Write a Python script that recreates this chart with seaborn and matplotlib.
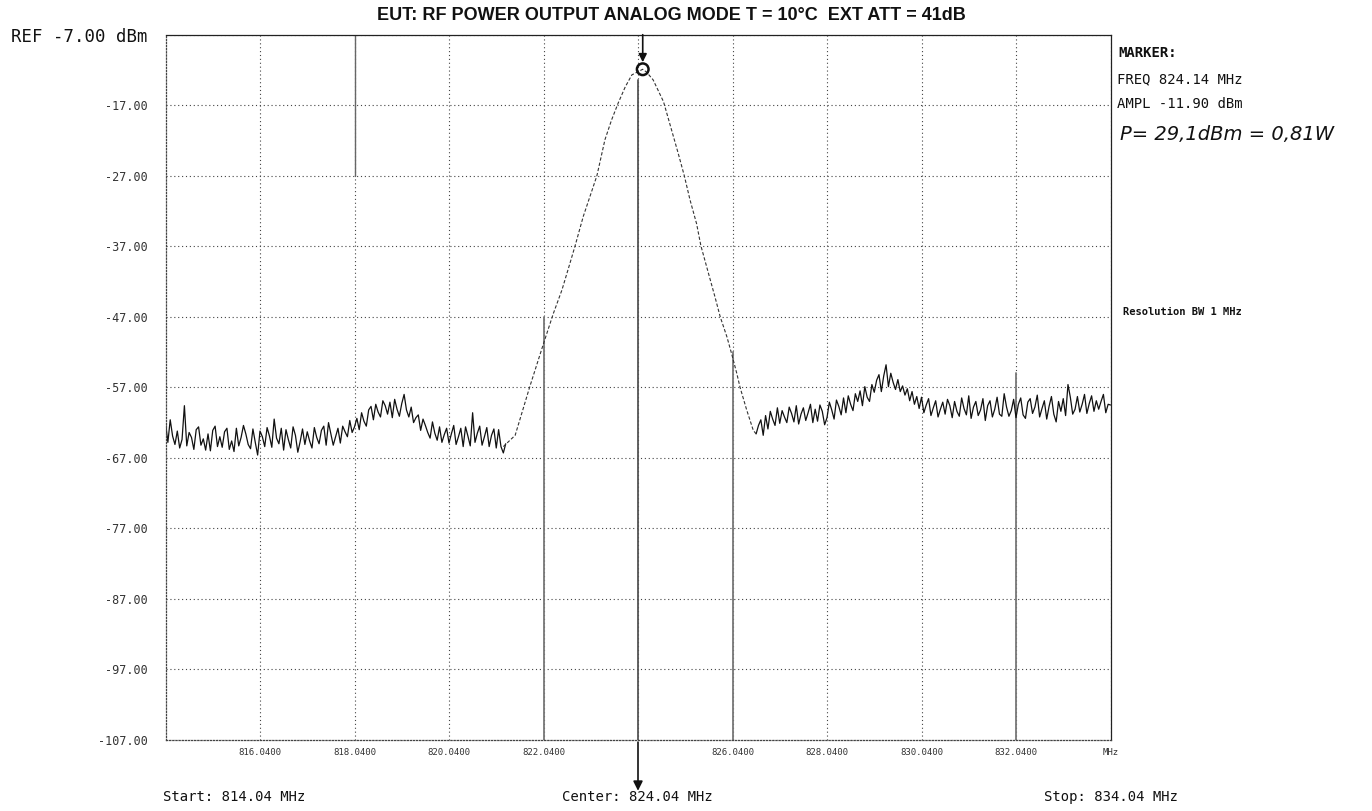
import numpy as np
import pandas as pd
import matplotlib
matplotlib.use("Agg")
import matplotlib.pyplot as plt
import seaborn as sns

# ---- sweep settings -------------------------------------------------------
start_mhz = 814.04
center_mhz = 824.04
stop_mhz = 834.04
sweep_step_mhz = 0.05
ref_level_dbm = -7.0
bottom_level_dbm = -107.0

# ---- axis ticks -----------------------------------------------------------
y_tick_values = [-7, -17, -27, -37, -47, -57, -67, -77, -87, -97, -107]
y_tick_labels = ["REF -7.00 dBm", "-17.00", "-27.00", "-37.00", "-47.00", "-57.00",
                 "-67.00", "-77.00", "-87.00", "-97.00", "-107.00"]
x_tick_values = [816.04, 818.04, 820.04, 822.04, 824.04, 826.04, 828.04, 830.04, 832.04, 834.04]
x_tick_labels = ["816.0400", "818.0400", "820.0400", "822.0400", "", "826.0400",
                 "828.0400", "830.0400", "832.0400", "MHz"]

# ---- marker readout -------------------------------------------------------
marker_freq_mhz = 824.14
marker_ampl_dbm = -11.90
resolution_bw_mhz = 1

# ---- trace: noise floor below the carrier (814.04 .. 821.24 MHz) ---------
left_noise_dbm = [
    -62.0, -64.8, -61.6, -63.9, -65.1, -63.2, -65.6, -64.4, -59.6, -65.3,
    -63.4, -64.1, -65.8, -63.0, -62.6, -65.2, -64.3, -65.9, -63.6, -66.0,
    -63.1, -62.5, -65.4, -64.0, -65.5, -63.3, -62.8, -65.8, -64.6, -66.1,
    -62.8, -65.3, -64.1, -62.4, -63.6, -65.1, -65.7, -62.9, -64.8, -66.6,
    -63.2, -64.0, -65.4, -62.7, -63.9, -65.5, -61.5, -64.2, -65.0, -62.8,
    -65.9, -63.0, -64.4, -65.6, -62.6, -63.8, -66.2, -64.7, -62.9, -65.1,
    -63.3, -64.6, -65.6, -62.7, -64.1, -65.0, -63.1, -62.5, -65.2, -62.0,
    -63.6, -65.2, -64.0, -62.8, -64.9, -62.5, -63.3, -64.0, -61.7, -63.4,
    -62.6, -61.4, -63.0, -60.6, -61.8, -62.5, -60.2, -59.7, -61.6, -59.4,
    -60.5, -61.2, -58.9, -59.6, -60.8, -59.1, -61.3, -58.7, -60.1, -61.1,
    -59.3, -58.0, -60.2, -61.2, -59.8, -62.0, -61.3, -60.9, -63.1, -61.5,
    -62.4, -63.4, -64.2, -61.9, -63.5, -64.5, -62.6, -64.8, -63.7, -62.8,
    -64.9, -63.6, -62.4, -65.1, -64.0, -62.8, -65.4, -62.6, -63.9, -65.3,
    -60.6, -64.8, -63.5, -62.5, -65.2, -64.0, -62.7, -65.4, -63.8, -62.9,
    -65.6, -63.0, -65.4, -66.3, -65.0,
]

# ---- trace: main carrier lobe --------------------------------------------
lobe_freq_mhz = [
    821.19, 821.44, 821.75, 822.04, 822.25, 822.43, 822.60, 822.71, 822.88,
    823.02, 823.17, 823.34, 823.48, 823.62, 823.77, 823.91, 824.14, 824.22,
    824.36, 824.58, 824.75, 824.89, 825.02, 825.14, 825.28, 825.37, 825.53,
    825.67, 825.78, 825.92, 826.02, 826.13, 826.20, 826.34, 826.48, 826.54,
]
lobe_dbm = [
    -65.4, -63.8, -56.9, -50.8, -46.5, -43.2, -39.4, -36.9, -32.8,
    -30.0, -27.0, -21.9, -19.1, -16.7, -14.4, -12.7, -11.9, -12.3,
    -13.4, -16.5, -20.5, -23.8, -27.0, -30.4, -33.8, -36.9, -40.8,
    -44.2, -47.0, -49.8, -52.2, -55.0, -57.0, -60.2, -63.1, -63.6,
]

# ---- trace: noise floor above the carrier (826.54 .. 834.04 MHz) ---------
right_noise_dbm = [
    -63.6, -62.4, -61.6, -63.8, -61.0, -62.9, -60.4, -61.5, -62.4, -59.9,
    -62.1, -60.3, -61.2, -62.0, -59.8, -60.7, -61.9, -59.6, -62.2, -60.8,
    -59.9, -61.7, -60.6, -59.4, -62.0, -60.1, -61.8, -59.5, -60.4, -62.3,
    -61.3, -59.1, -60.2, -61.5, -58.8, -59.7, -60.9, -58.5, -60.6, -58.2,
    -59.4, -60.3, -57.9, -59.0, -57.5, -59.6, -56.9, -58.4, -59.0, -56.6,
    -57.7, -56.0, -55.2, -57.6, -55.4, -53.8, -56.9, -55.0, -56.3, -57.3,
    -55.9, -57.6, -56.8, -58.1, -57.2, -58.9, -57.6, -59.4, -58.3, -60.0,
    -58.4, -60.6, -59.5, -58.6, -61.0, -59.9, -58.9, -61.2, -60.1, -59.1,
    -60.8, -58.7, -59.6, -61.3, -59.0, -60.4, -61.1, -58.5, -60.0, -60.9,
    -58.2, -61.4, -59.8, -59.0, -61.0, -60.2, -58.6, -61.7, -59.6, -58.9,
    -61.2, -60.1, -58.4, -60.8, -61.1, -57.9, -59.8, -61.1, -60.3, -58.7,
    -61.3, -59.4, -58.5, -60.9, -61.4, -59.1, -58.6, -60.7, -59.8, -58.1,
    -61.2, -60.0, -58.9, -61.5, -59.7, -58.3, -60.8, -61.9, -59.0, -60.4,
    -58.6, -61.0, -56.6, -58.4, -60.8, -60.1, -58.3, -60.5, -59.4, -58.0,
    -60.7, -59.3, -58.2, -60.4, -58.9, -60.1, -59.0, -58.0, -60.6, -59.4,
    -59.5,
]
right_noise_start_mhz = 826.54

left_df = pd.DataFrame({
    "freq": start_mhz + sweep_step_mhz * np.arange(len(left_noise_dbm)),
    "dbm": left_noise_dbm,
})
right_df = pd.DataFrame({
    "freq": right_noise_start_mhz + sweep_step_mhz * np.arange(len(right_noise_dbm)),
    "dbm": right_noise_dbm,
})
lobe_df = pd.DataFrame({"freq": lobe_freq_mhz, "dbm": lobe_dbm})
marker_df = pd.DataFrame({"freq": [marker_freq_mhz], "dbm": [marker_ampl_dbm]})

# ---- figure ---------------------------------------------------------------
sns.set_theme(style="white")
plt.rcParams["font.family"] = ["DejaVu Sans Mono", "DejaVu Sans"]

W, H = 1372, 811
fig = plt.figure(figsize=(W / 100, H / 100), dpi=100)
fig.patch.set_facecolor("white")


def fx(px):
    return px / W


def fy(py):
    return 1 - py / H


ax = fig.add_axes([fx(165.5), fy(740), fx(1110.5) - fx(165.5), fy(34.7) - fy(740)])
ax.set_facecolor("white")

ink = "#111111"
sns.lineplot(data=left_df, x="freq", y="dbm", ax=ax, color=ink, lw=0.9, estimator=None, sort=False)
sns.lineplot(data=right_df, x="freq", y="dbm", ax=ax, color=ink, lw=0.9, estimator=None, sort=False)
sns.lineplot(data=lobe_df, x="freq", y="dbm", ax=ax, color="#333333", lw=0.8,
             estimator=None, sort=False, linestyle=(0, (3, 1.8)))
sns.scatterplot(data=marker_df, x="freq", y="dbm", ax=ax, marker="o", s=70,
                facecolor="none", edgecolor=ink, linewidth=1.8, zorder=5)

ax.set_xlim(start_mhz, stop_mhz)
ax.set_ylim(bottom_level_dbm, ref_level_dbm)
ax.set_xticks(x_tick_values)
ax.set_xticklabels(x_tick_labels, fontsize=6.5, color="#333333")
ax.set_yticks(y_tick_values)
ax.set_yticklabels(y_tick_labels, fontsize=8.5, color="#333333")
ax.get_yticklabels()[0].set_fontsize(12.5)
ax.get_yticklabels()[0].set_color(ink)
ax.tick_params(axis="y", length=0, pad=13)
ax.tick_params(axis="x", length=0, pad=6)
ax.set_xlabel("")
ax.set_ylabel("")

ax.grid(True, which="major", color="#444444", lw=0.8, linestyle=(0, (1, 2.5)))

for side in ["top", "right"]:
    ax.spines[side].set_color("#222222")
    ax.spines[side].set_linewidth(0.9)
for side in ["left", "bottom"]:
    ax.spines[side].set_color("#444444")
    ax.spines[side].set_linewidth(0.9)
    ax.spines[side].set_linestyle((0, (1, 1.5)))


# darker printed grid segments
def vseg(freq, top_dbm, bot_dbm, color="#777777", lw=1.3):
    span = ref_level_dbm - bottom_level_dbm
    ax.axvline(freq, ymin=(bot_dbm - bottom_level_dbm) / span,
               ymax=(top_dbm - bottom_level_dbm) / span, color=color, lw=lw, zorder=1)


vseg(center_mhz, marker_ampl_dbm - 1.5, bottom_level_dbm, color="#555555")
vseg(822.04, -47, bottom_level_dbm)
vseg(826.04, -52, bottom_level_dbm)
vseg(832.04, -55, bottom_level_dbm)
vseg(818.04, ref_level_dbm, -27, color="#666666", lw=1.0)

# marker arrow from the top frame and center arrow below the axis
ax.annotate("", xy=(marker_freq_mhz, marker_ampl_dbm + 1.0), xycoords="data",
            xytext=(marker_freq_mhz, 1.0), textcoords=("data", "axes fraction"),
            arrowprops=dict(arrowstyle="-|>", color=ink, lw=1.2, mutation_scale=12,
                            shrinkA=0, shrinkB=0), annotation_clip=False)
ax.annotate("", xy=(center_mhz, -0.072), xycoords=("data", "axes fraction"),
            xytext=(center_mhz, -0.003), textcoords=("data", "axes fraction"),
            arrowprops=dict(arrowstyle="-|>", color=ink, lw=1.2, mutation_scale=14,
                            shrinkA=0, shrinkB=0), annotation_clip=False)

# ---- text -----------------------------------------------------------------
fig.text(fx(671), fy(15), "EUT: RF POWER OUTPUT ANALOG MODE T = 10°C  EXT ATT = 41dB",
         ha="center", va="center", fontsize=13, fontweight="bold",
         family=["Liberation Sans", "DejaVu Sans"], color=ink)

mono = dict(family=["DejaVu Sans Mono"], color=ink)
fig.text(fx(1118), fy(53), "MARKER:", ha="left", va="center", fontsize=10, fontweight="bold", **mono)
fig.text(fx(1117), fy(79), f"FREQ {marker_freq_mhz:.2f} MHz", ha="left", va="center", fontsize=10, **mono)
fig.text(fx(1117), fy(104), f"AMPL {marker_ampl_dbm:.2f} dBm", ha="left", va="center", fontsize=10, **mono)
fig.text(fx(1120), fy(134), "P= 29,1dBm = 0,81W", ha="left", va="center", fontsize=14,
         style="oblique", family=["DejaVu Sans"], color=ink)
fig.text(fx(1123), fy(312), f"Resolution BW {resolution_bw_mhz} MHz", ha="left", va="center",
         fontsize=7.5, fontweight="bold", **mono)

fig.text(fx(163), fy(797), f"Start: {start_mhz:.2f} MHz", ha="left", va="center", fontsize=10, **mono)
fig.text(fx(637), fy(797), f"Center: {center_mhz:.2f} MHz", ha="center", va="center", fontsize=10, **mono)
fig.text(fx(1044), fy(797), f"Stop: {stop_mhz:.2f} MHz", ha="left", va="center", fontsize=10, **mono)

fig.savefig("out.png", dpi=100, facecolor="white")
